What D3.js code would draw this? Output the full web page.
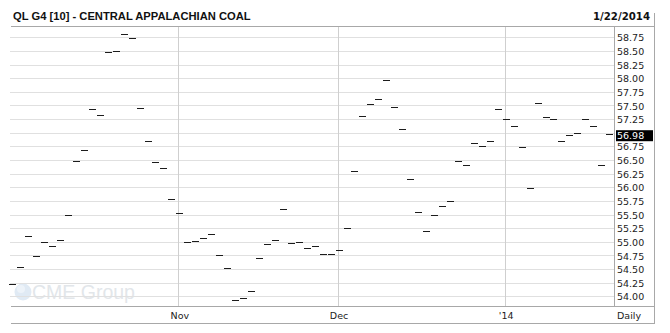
<!DOCTYPE html>
<html>
<head>
<meta charset="utf-8">
<script src="https://cdn.jsdelivr.net/npm/d3@7"></script>
<style>
  body { margin: 0; background: #fff; }
  .title { font-family: "Liberation Sans", Arial, sans-serif; font-weight: bold; font-size: 11.2px; fill: #111; }
  .date { font-family: "DejaVu Sans", Verdana, sans-serif; font-weight: bold; font-size: 10.2px; fill: #111; }
  .axis text { font-family: "DejaVu Sans", Verdana, sans-serif; font-size: 9.5px; fill: #222; }
  .axis path { display: none; }
  .grid line { stroke: #e0e0e0; shape-rendering: crispEdges; }
  .grid path { display: none; }
  .vgrid line { stroke: #cfcfcf; shape-rendering: crispEdges; }
  .frame { stroke: #a8a8a8; shape-rendering: crispEdges; }
  .bar { stroke: #1c1c1c; stroke-width: 1; shape-rendering: crispEdges; }
</style>
</head>
<body>
<script>
// chart data
const title = 'QL G4 [10] - CENTRAL APPALACHIAN COAL';
const asOf = '1/22/2014';

const dates = [
  '2013-10-03', '2013-10-04', '2013-10-07', '2013-10-08', '2013-10-09', '2013-10-10', '2013-10-11',
  '2013-10-14', '2013-10-15', '2013-10-16', '2013-10-17', '2013-10-18', '2013-10-21', '2013-10-22',
  '2013-10-23', '2013-10-24', '2013-10-25', '2013-10-28', '2013-10-29', '2013-10-30', '2013-10-31',
  '2013-11-01', '2013-11-04', '2013-11-05', '2013-11-06', '2013-11-07', '2013-11-08', '2013-11-11',
  '2013-11-12', '2013-11-13', '2013-11-14', '2013-11-15', '2013-11-18', '2013-11-19', '2013-11-20',
  '2013-11-21', '2013-11-22', '2013-11-25', '2013-11-26', '2013-11-27', '2013-11-29',
  '2013-12-02', '2013-12-03', '2013-12-04', '2013-12-05', '2013-12-06', '2013-12-09', '2013-12-10',
  '2013-12-11', '2013-12-12', '2013-12-13', '2013-12-16', '2013-12-17', '2013-12-18', '2013-12-19',
  '2013-12-20', '2013-12-23', '2013-12-24', '2013-12-26', '2013-12-27', '2013-12-30', '2013-12-31',
  '2014-01-02', '2014-01-03', '2014-01-06', '2014-01-07', '2014-01-08', '2014-01-09', '2014-01-10',
  '2014-01-13', '2014-01-14', '2014-01-15', '2014-01-16', '2014-01-17', '2014-01-21', '2014-01-22'
];

const closes = [
  54.23, 54.54, 55.11, 54.74, 55.00, 54.93, 55.03, 55.49, 56.49, 56.68,
  57.44, 57.33, 58.48, 58.49, 58.81, 58.74, 57.46, 56.84, 56.46, 56.35,
  55.79, 55.53, 55.00, 55.02, 55.07, 55.14, 54.76, 54.51, 53.94, 53.96,
  54.10, 54.70, 54.96, 55.03, 55.60, 54.98, 55.00, 54.89, 54.92, 54.78,
  54.78, 54.84, 55.25, 56.29, 57.30, 57.53, 57.61, 57.97, 57.48, 57.06,
  56.16, 55.55, 55.20, 55.49, 55.66, 55.74, 56.48, 56.41, 56.81, 56.75,
  56.84, 57.44, 57.26, 57.13, 56.74, 55.98, 57.55, 57.28, 57.25, 56.84,
  56.95, 56.99, 57.25, 57.13, 56.41, 56.98
];

const monthStarts = ['2013-11-01', '2013-12-02', '2014-01-02'];
const monthLabels = ['Nov', 'Dec', "'14"];

const yTicks = [54.00, 54.25, 54.50, 54.75, 55.00, 55.25, 55.50, 55.75, 56.00, 56.25,
  56.50, 56.75, 57.00, 57.25, 57.50, 57.75, 58.00, 58.25, 58.50, 58.75];

const lastValue = 56.98;

// svg params
const svgW = 670;
const svgH = 333;
const plotL = 10;
const plotR = 614;
const plotT = 26;
const plotB = 306;
const frameR = 654;
const frameB = 323;

const svg = d3.select('body').append('svg').attr('width', svgW).attr('height', svgH);

const x = d3.scalePoint().domain(dates).range([12.7, 609.7]);
const y = d3.scaleLinear().domain([54, 58.75]).range([296.3, 37.3]);

// watermark
const wm = svg.append('g');
wm.append('circle').attr('cx', 23).attr('cy', 292).attr('r', 8.5).attr('fill', '#e0eaf4');
wm.append('circle').attr('cx', 21).attr('cy', 289).attr('r', 4).attr('fill', '#edf3f9');
wm.append('text')
  .attr('x', 32).attr('y', 299)
  .attr('font-family', 'Liberation Sans, Arial, sans-serif')
  .attr('font-size', 19.5)
  .attr('fill', '#e2e6ea')
  .text('CME Group');

// horizontal grid
svg.append('g')
  .attr('class', 'grid')
  .attr('transform', 'translate(' + plotL + ',0)')
  .call(d3.axisRight(y).tickValues(yTicks).tickSize(plotR - plotL).tickFormat(''));

// vertical month grid
svg.append('g')
  .attr('class', 'vgrid')
  .selectAll('line')
  .data(monthStarts)
  .join('line')
  .attr('x1', (d) => Math.floor(x(d)) - 0.5)
  .attr('x2', (d) => Math.floor(x(d)) - 0.5)
  .attr('y1', plotT)
  .attr('y2', plotB);

// frame lines
const frame = [
  [plotL, plotT, frameR, plotT],
  [plotL, plotB, frameR, plotB],
  [plotL, frameB, frameR, frameB],
  [plotR, plotT, plotR, plotB],
  [frameR, 12, frameR, frameB]
];
svg.append('g').selectAll('line').data(frame).join('line')
  .attr('class', 'frame')
  .attr('x1', (d) => d[0] + 0.5).attr('y1', (d) => d[1] + 0.5)
  .attr('x2', (d) => d[2] + 0.5).attr('y2', (d) => d[3] + 0.5);

// price ticks
svg.append('g').selectAll('line')
  .data(dates.map((d, i) => ({ date: d, close: closes[i] })))
  .join('line')
  .attr('class', 'bar')
  .attr('x1', (d) => x(d.date) - 3.5)
  .attr('x2', (d) => x(d.date) + 3.5)
  .attr('y1', (d) => Math.round(y(d.close)) + 0.5)
  .attr('y2', (d) => Math.round(y(d.close)) + 0.5);

// y axis labels (the one hidden by the last-value box is left out)
const labelTicks = yTicks.filter((t) => Math.abs(t - lastValue) > 0.1);
const yAxis = svg.append('g')
  .attr('class', 'axis')
  .attr('transform', 'translate(' + plotR + ',0)')
  .call(d3.axisRight(y).tickValues(labelTicks).tickSize(0).tickPadding(3).tickFormat(d3.format('.2f')));
yAxis.selectAll('text').attr('dy', '0.57em').attr('y', -1.8);

// last value box
const lastG = svg.append('g').attr('class', 'axis');
lastG.append('rect')
  .attr('x', plotR + 2).attr('y', y(lastValue) - 3.6)
  .attr('width', 37).attr('height', 11)
  .attr('fill', '#000');
lastG.append('text')
  .attr('x', plotR + 3).attr('y', y(lastValue) + 5.4)
  .style('fill', '#fff')
  .text(d3.format('.2f')(lastValue));

// x axis labels
svg.append('g')
  .attr('class', 'axis')
  .selectAll('text')
  .data(monthStarts)
  .join('text')
  .attr('x', (d) => x(d))
  .attr('y', 318.5)
  .attr('text-anchor', 'middle')
  .text((d, i) => monthLabels[i]);

svg.append('text')
  .attr('x', plotR + 3).attr('y', 318.5)
  .style('font-family', 'DejaVu Sans, Verdana, sans-serif')
  .style('font-size', '9.5px')
  .style('fill', '#222')
  .text('Daily');

// header
svg.append('text').attr('class', 'title').attr('x', 13).attr('y', 20).text(title);
svg.append('text').attr('class', 'date').attr('x', 650).attr('y', 20).attr('text-anchor', 'end').text(asOf);
</script>
</body>
</html>
